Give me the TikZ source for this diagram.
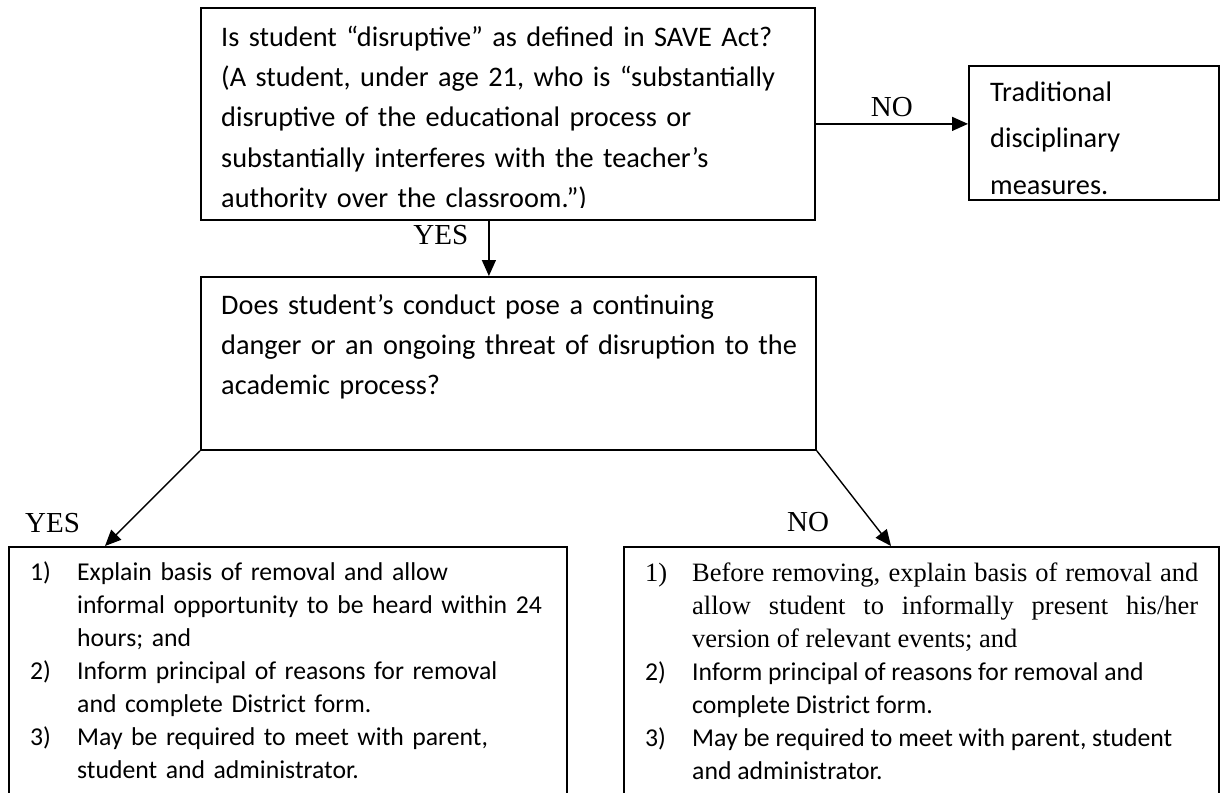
\documentclass[tikz,border=0pt]{standalone}
\usepackage{fontspec}
\setmainfont{Carlito}
\newfontfamily\timesfont{Liberation Serif}
\usetikzlibrary{arrows.meta}
\newcommand{\numitem}[2]{\noindent\hangindent=47pt\hangafter=1\relax\makebox[47pt][l]{#1}#2\par}
\newcommand{\serifpart}{\timesfont\fontsize{26.5}{33}\selectfont}
\tikzset{
  box/.style={draw, line width=1.8pt, inner sep=0pt, anchor=north west},
  txt/.style={inner sep=0pt, anchor=base west, align=left, font=\fontsize{28.3}{40.4}\selectfont},
  steps/.style={inner sep=0pt, anchor=base west, font=\fontsize{25.7}{33}\selectfont},
  lbl/.style={inner sep=0pt, font=\timesfont\fontsize{29}{33}\selectfont},
  arrow/.style={-{Triangle[length=16pt,width=14pt]}, line width=1.4pt}
}
\begin{document}
\begin{tikzpicture}[x=1pt,y=-1pt]
  \useasboundingbox (0,0) rectangle (1222,792);
  \clip (0,0) rectangle (1222,792);
  % Boxes
  \node[box, minimum width=614pt, minimum height=212pt] (q1) at (200,7) {};
  \node[box, minimum width=250pt, minimum height=134pt] (trad) at (968,65) {};
  \node[box, minimum width=615pt, minimum height=173pt] (q2) at (200,276) {};
  \node[box, minimum width=558pt, minimum height=300pt] (yesbox) at (8,546) {};
  \node[box, minimum width=595pt, minimum height=300pt] (nobox) at (623,546) {};
  % Texts
  \begin{scope}
    \clip (q1.north west) rectangle ([yshift=13pt]q1.south east);
    \node[txt, text width=610pt] (q1text) at (221,46) {Is student “disruptive” as defined in SAVE Act?\\
      (A student, under age 21, who is “substantially\\
      disruptive of the educational process or\\
      substantially interferes with the teacher’s\\
      authority over the classroom.”)};
  \end{scope}
  \node[txt, text width=220pt, font=\fontsize{28.3}{46.5}\selectfont] (tradtext) at (990,101) {Traditional\\ disciplinary\\ measures.};
  \node[txt, text width=610pt] (q2text) at (221,314) {Does student’s conduct pose a continuing\\
    danger or an ongoing threat of disruption to the\\
    academic process?};
  \node[steps, align=left, text width=530pt] (yessteps) at (30,580) {%
    \numitem{1)}{Explain basis of removal and allow\newline informal opportunity to be heard within 24\newline hours; and}%
    \numitem{2)}{Inform principal of reasons for removal\newline and complete District form.}%
    \numitem{3)}{May be required to meet with parent,\newline student and administrator.}};
  \node[steps, align=justify, text width=553pt] (nosteps) at (645,581) {%
    \numitem{\serifpart 1)}{{\serifpart Before removing, explain basis of removal and\linebreak allow student to informally present his/her\linebreak version of relevant events; and}}%
    \numitem{2)}{Inform principal of reasons for removal and\newline complete District form.}%
    \numitem{3)}{May be required to meet with parent, student\newline and administrator.}};
  % Arrows
  \draw[arrow] ([yshift=-10pt]q1.east) -- ([yshift=-10pt]q1.east -| trad.west) node[lbl, midway, above=6pt] (nolbl1) {NO};
  \draw[arrow] ([xshift=-19pt]q1.south) -- ([xshift=-19pt]q1.south |- q2.north) node[lbl, pos=0.25, left=20pt] (yeslbl1) {YES};
  \draw[arrow] (q2.south west) -- ([xshift=97pt]yesbox.north west);
  \node[lbl, anchor=south west] (yeslbl2) at ([xshift=17pt,yshift=13pt]yesbox.north west) {YES};
  \draw[arrow] (q2.south east) -- ([xshift=268pt]nobox.north west);
  \node[lbl, anchor=south west] (nolbl2) at ([xshift=164pt,yshift=14pt]nobox.north west) {NO};
\end{tikzpicture}
\end{document}
